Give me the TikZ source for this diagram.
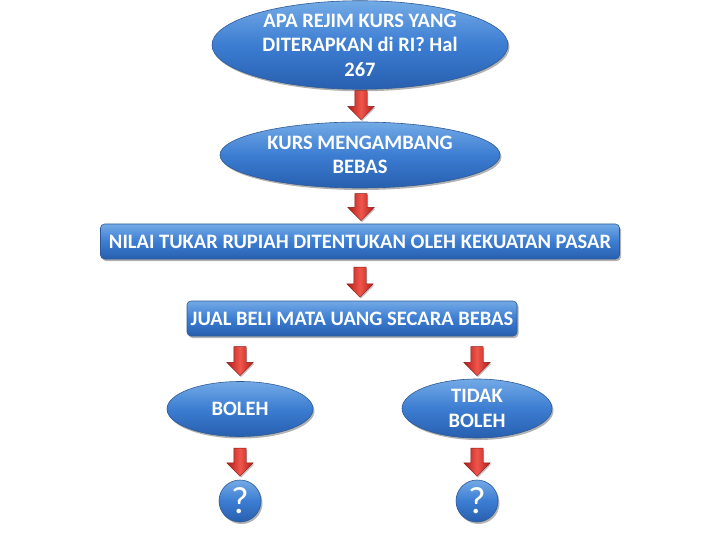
\documentclass[tikz,border=0pt]{standalone}
\usepackage{fontspec}
\setmainfont{Carlito}
\usetikzlibrary{shapes.geometric,shapes.arrows,shadows,arrows.meta}
\definecolor{bluetop}{RGB}{115,170,230}
\definecolor{bluemid}{RGB}{60,125,210}
\definecolor{bluebot}{RGB}{40,95,175}
\definecolor{blueedge}{RGB}{45,90,150}
\definecolor{redtop}{RGB}{240,85,75}
\definecolor{redbot}{RGB}{175,30,25}
\tikzset{
  x=1pt,y=-1pt,
  bluefill/.style={top color=bluetop,bottom color=bluebot,middle color=bluemid,draw=blueedge,line width=0.6pt,
    drop shadow={shadow xshift=1.5pt,shadow yshift=-2pt,opacity=0.3,fill=black}},
  ell/.style={ellipse,bluefill,inner sep=0pt,text=white,font=\bfseries\fontsize{20.5}{24.5}\selectfont,align=center},
  boxn/.style={rectangle,rounded corners=4pt,bluefill,inner sep=0pt,text=white,font=\bfseries\fontsize{20.5}{24.5}\selectfont,align=center},
  circ/.style={circle,bluefill,inner sep=0pt,minimum size=42pt,text=white,font=\fontsize{38}{40}\selectfont},
  redarrow/.style={single arrow,draw=redbot!80!black,line width=0.4pt,left color=redbot,right color=redbot,middle color=redtop,
    shape border rotate=270,single arrow head extend=7pt,single arrow tip angle=90,minimum width=26pt,inner sep=6pt,
    minimum height=29pt,
    drop shadow={shadow xshift=1pt,shadow yshift=-1.5pt,opacity=0.25,fill=black}},
}
\begin{document}
\begin{tikzpicture}
\useasboundingbox (0,0) rectangle (720,540);
\node[ell,minimum width=296pt,minimum height=80pt] (e1) at (360,45) {APA REJIM KURS YANG\\DITERAPKAN di RI? Hal\\267};
\node[redarrow] (a1) at (361,102) {};
\node[ell,minimum width=280pt,minimum height=66pt] (e2) at (360,155) {KURS MENGAMBANG\\BEBAS};
\node[redarrow,minimum height=27pt] (a2) at (361,204) {};
\node[boxn,minimum width=519pt,minimum height=35pt] (b3) at (360,241.5) {NILAI TUKAR RUPIAH DITENTUKAN OLEH KEKUATAN PASAR};
\node[redarrow,minimum height=30pt] (a3) at (360,279) {};
\node[boxn,minimum width=330pt,minimum height=35pt] (b4) at (352,318.5) {JUAL BELI MATA UANG SECARA BEBAS};
\node[redarrow] (a4) at (240,358) {};
\node[redarrow] (a5) at (477,358) {};
\node[ell,minimum width=146pt,minimum height=55pt] (e5) at (240,409) {BOLEH};
\node[ell,minimum width=150pt,minimum height=59pt] (e6) at (477,408.5) {TIDAK\\BOLEH};
\node[redarrow,minimum height=28pt] (a6) at (240,459) {};
\node[redarrow,minimum height=28pt] (a7) at (477,459) {};
\node[circ] (q1) at (240,501) {?};
\node[circ] (q2) at (477,501) {?};
\end{tikzpicture}
\end{document}
